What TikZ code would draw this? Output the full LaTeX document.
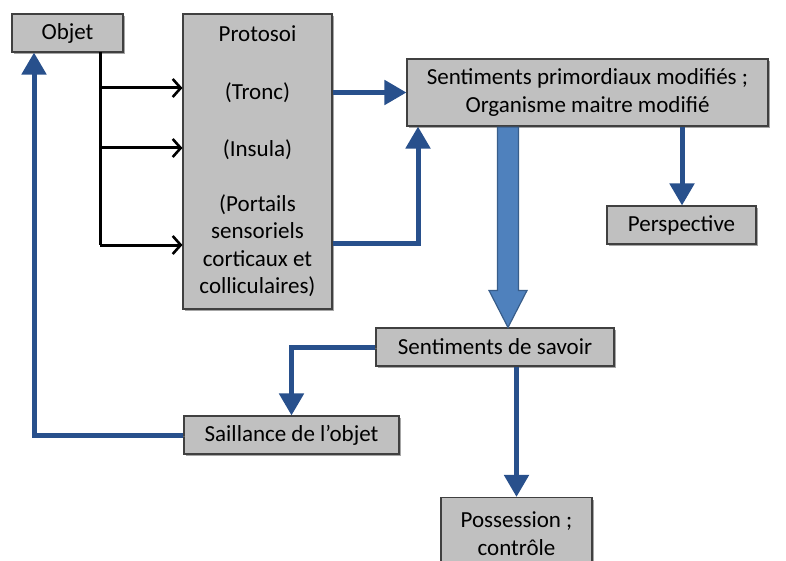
\documentclass[tikz,border=0pt]{standalone}
\usepackage{fontspec}
\setmainfont{Carlito}
\usetikzlibrary{arrows.meta,shadows,calc}
\definecolor{boxgray}{RGB}{192,192,192}
\definecolor{boxline}{RGB}{64,64,64}
\definecolor{darkblue}{RGB}{40,80,140}
\definecolor{bigfill}{RGB}{79,129,189}
\definecolor{bigline}{RGB}{56,93,138}
\tikzset{
  box/.style={draw=boxline, line width=1.1pt, fill=boxgray, rectangle, inner sep=0pt,
    align=center, font=\fontsize{23}{27.5}\selectfont,
    drop shadow={shadow xshift=2pt, shadow yshift=-2pt, opacity=0.35, fill=black}},
  blk/.style={draw=black, line width=3pt, -{Straight Barb[length=8pt,width=18pt,line width=2.6pt]}},
  blkline/.style={draw=black, line width=3pt},
  blue/.style={draw=darkblue, line width=5pt, -{Triangle[length=22pt,width=24pt]},
    preaction={draw=black!40, opacity=0.4, transform canvas={xshift=1.5pt,yshift=-1.5pt}}},
  big/.style={fill=bigfill, draw=bigline, line width=1.2pt}
}
\begin{document}
\begin{tikzpicture}[x=1pt,y=-1pt]
\path[use as bounding box] (0,0) rectangle (786,561);

\node[box, minimum width=111pt, minimum height=38pt] (objet) at (67.5,33) {Objet};
\node[box, minimum width=149pt, minimum height=295pt] (proto) at (257.5,161.5)
  {Protosoi\\[30pt](Tronc)\\[30pt](Insula)\\[27pt](Portails\\sensoriels\\corticaux et\\colliculaires)};
\node[box, minimum width=361pt, minimum height=67pt] (prim) at (587.5,92.5)
  {Sentiments primordiaux modifiés ;\\Organisme maitre modifié};
\node[box, minimum width=149pt, minimum height=38pt] (persp) at (681.5,225) {Perspective};
\node[box, minimum width=238pt, minimum height=38pt] (sav) at (495,347) {Sentiments de savoir};
\node[box, minimum width=215pt, minimum height=38pt] (sail) at (291.5,435) {Saillance de l’objet};
\node[box, minimum width=151pt, minimum height=72pt] (poss) at (516.5,533.5) {Possession ;\\contrôle};

% black connectors
\coordinate (j) at (100,52);
\coordinate (jb) at (100,245);
\draw[blkline] (j) -- (jb);
\draw[blk] (100,88) -- (proto.west |- 0,88);
\draw[blk] (100,148) -- (proto.west |- 0,148);
\draw[blk] (jb) -- (proto.west |- jb);

% blue connectors
\draw[blue] (proto.east |- prim.west) -- (prim.west);
\draw[blue] (proto.east |- 0,243) -| (418,0 |- prim.south);
\draw[blue] (682,0 |- prim.south) -- (682,0 |- persp.north);
\draw[blue] (sav.west) -| (sail.north);
\draw[blue] (sav.south -| poss.north) -- (poss.north);
\draw[blue] (sail.west) -| (34,0 |- objet.south);

% big arrow
\coordinate (bt) at (508,0 |- prim.south);
\coordinate (tip) at (508,0 |- sav.north);
\draw[big] ($(bt)+(-10.5,0.6)$) -- ($(tip)+(-10.5,-37)$) -- ($(tip)+(-19,-37)$) -- (tip)
  -- ($(tip)+(19,-37)$) -- ($(tip)+(10.5,-37)$) -- ($(bt)+(10.5,0.6)$) -- cycle;
\end{tikzpicture}
\end{document}
